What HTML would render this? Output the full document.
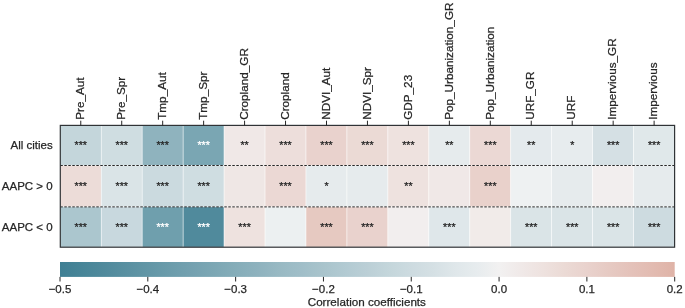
<!DOCTYPE html><html><head><meta charset="utf-8"><title>Correlation heatmap</title>
<style>html,body{margin:0;padding:0;background:#fff}svg{display:block;will-change:transform}text{font-family:"Liberation Sans",Arial,sans-serif;fill:#262626;stroke:#262626;stroke-width:0.25px}</style></head><body>
<svg width="685" height="308" viewBox="0 0 685 308">
<rect width="685" height="308" fill="#fff"/>
<rect x="60.30" y="125.40" width="40.95" height="40.10" fill="#c4d6db" stroke="#fff" stroke-width="0.6" stroke-opacity="0.75"/>
<rect x="101.25" y="125.40" width="40.95" height="40.10" fill="#cfdde1" stroke="#fff" stroke-width="0.6" stroke-opacity="0.75"/>
<rect x="142.21" y="125.40" width="40.95" height="40.10" fill="#8fb3be" stroke="#fff" stroke-width="0.6" stroke-opacity="0.75"/>
<rect x="183.16" y="125.40" width="40.95" height="40.10" fill="#7aa6b3" stroke="#fff" stroke-width="0.6" stroke-opacity="0.75"/>
<rect x="224.11" y="125.40" width="40.95" height="40.10" fill="#f0e8e7" stroke="#fff" stroke-width="0.6" stroke-opacity="0.75"/>
<rect x="265.07" y="125.40" width="40.95" height="40.10" fill="#eddedb" stroke="#fff" stroke-width="0.6" stroke-opacity="0.75"/>
<rect x="306.02" y="125.40" width="40.95" height="40.10" fill="#e9d2cd" stroke="#fff" stroke-width="0.6" stroke-opacity="0.75"/>
<rect x="346.97" y="125.40" width="40.95" height="40.10" fill="#ebdad5" stroke="#fff" stroke-width="0.6" stroke-opacity="0.75"/>
<rect x="387.93" y="125.40" width="40.95" height="40.10" fill="#eee2df" stroke="#fff" stroke-width="0.6" stroke-opacity="0.75"/>
<rect x="428.88" y="125.40" width="40.95" height="40.10" fill="#e6ebed" stroke="#fff" stroke-width="0.6" stroke-opacity="0.75"/>
<rect x="469.83" y="125.40" width="40.95" height="40.10" fill="#ebd8d4" stroke="#fff" stroke-width="0.6" stroke-opacity="0.75"/>
<rect x="510.79" y="125.40" width="40.95" height="40.10" fill="#e4eaed" stroke="#fff" stroke-width="0.6" stroke-opacity="0.75"/>
<rect x="551.74" y="125.40" width="40.95" height="40.10" fill="#e7ecee" stroke="#fff" stroke-width="0.6" stroke-opacity="0.75"/>
<rect x="592.69" y="125.40" width="40.95" height="40.10" fill="#d5e0e4" stroke="#fff" stroke-width="0.6" stroke-opacity="0.75"/>
<rect x="633.65" y="125.40" width="40.95" height="40.10" fill="#e0e8ea" stroke="#fff" stroke-width="0.6" stroke-opacity="0.75"/>
<rect x="60.30" y="165.50" width="40.95" height="41.40" fill="#ecdcd8" stroke="#fff" stroke-width="0.6" stroke-opacity="0.75"/>
<rect x="101.25" y="165.50" width="40.95" height="41.40" fill="#dae4e7" stroke="#fff" stroke-width="0.6" stroke-opacity="0.75"/>
<rect x="142.21" y="165.50" width="40.95" height="41.40" fill="#cbdadf" stroke="#fff" stroke-width="0.6" stroke-opacity="0.75"/>
<rect x="183.16" y="165.50" width="40.95" height="41.40" fill="#cfdde1" stroke="#fff" stroke-width="0.6" stroke-opacity="0.75"/>
<rect x="224.11" y="165.50" width="40.95" height="41.40" fill="#efe7e5" stroke="#fff" stroke-width="0.6" stroke-opacity="0.75"/>
<rect x="265.07" y="165.50" width="40.95" height="41.40" fill="#ebd8d4" stroke="#fff" stroke-width="0.6" stroke-opacity="0.75"/>
<rect x="306.02" y="165.50" width="40.95" height="41.40" fill="#e6ebed" stroke="#fff" stroke-width="0.6" stroke-opacity="0.75"/>
<rect x="346.97" y="165.50" width="40.95" height="41.40" fill="#e6ebed" stroke="#fff" stroke-width="0.6" stroke-opacity="0.75"/>
<rect x="387.93" y="165.50" width="40.95" height="41.40" fill="#eee2df" stroke="#fff" stroke-width="0.6" stroke-opacity="0.75"/>
<rect x="428.88" y="165.50" width="40.95" height="41.40" fill="#f0e8e7" stroke="#fff" stroke-width="0.6" stroke-opacity="0.75"/>
<rect x="469.83" y="165.50" width="40.95" height="41.40" fill="#e9d1cb" stroke="#fff" stroke-width="0.6" stroke-opacity="0.75"/>
<rect x="510.79" y="165.50" width="40.95" height="41.40" fill="#eef1f2" stroke="#fff" stroke-width="0.6" stroke-opacity="0.75"/>
<rect x="551.74" y="165.50" width="40.95" height="41.40" fill="#e6ebed" stroke="#fff" stroke-width="0.6" stroke-opacity="0.75"/>
<rect x="592.69" y="165.50" width="40.95" height="41.40" fill="#f2eeee" stroke="#fff" stroke-width="0.6" stroke-opacity="0.75"/>
<rect x="633.65" y="165.50" width="40.95" height="41.40" fill="#e6ebed" stroke="#fff" stroke-width="0.6" stroke-opacity="0.75"/>
<rect x="60.30" y="206.90" width="40.95" height="40.30" fill="#abc6ce" stroke="#fff" stroke-width="0.6" stroke-opacity="0.75"/>
<rect x="101.25" y="206.90" width="40.95" height="40.30" fill="#c8d8de" stroke="#fff" stroke-width="0.6" stroke-opacity="0.75"/>
<rect x="142.21" y="206.90" width="40.95" height="40.30" fill="#6f9fad" stroke="#fff" stroke-width="0.6" stroke-opacity="0.75"/>
<rect x="183.16" y="206.90" width="40.95" height="40.30" fill="#508a9c" stroke="#fff" stroke-width="0.6" stroke-opacity="0.75"/>
<rect x="224.11" y="206.90" width="40.95" height="40.30" fill="#eee2df" stroke="#fff" stroke-width="0.6" stroke-opacity="0.75"/>
<rect x="265.07" y="206.90" width="40.95" height="40.30" fill="#ecf0f1" stroke="#fff" stroke-width="0.6" stroke-opacity="0.75"/>
<rect x="306.02" y="206.90" width="40.95" height="40.30" fill="#e6c9c1" stroke="#fff" stroke-width="0.6" stroke-opacity="0.75"/>
<rect x="346.97" y="206.90" width="40.95" height="40.30" fill="#e9d2cd" stroke="#fff" stroke-width="0.6" stroke-opacity="0.75"/>
<rect x="387.93" y="206.90" width="40.95" height="40.30" fill="#f2eeee" stroke="#fff" stroke-width="0.6" stroke-opacity="0.75"/>
<rect x="428.88" y="206.90" width="40.95" height="40.30" fill="#dfe7ea" stroke="#fff" stroke-width="0.6" stroke-opacity="0.75"/>
<rect x="469.83" y="206.90" width="40.95" height="40.30" fill="#f1ebe9" stroke="#fff" stroke-width="0.6" stroke-opacity="0.75"/>
<rect x="510.79" y="206.90" width="40.95" height="40.30" fill="#dae4e7" stroke="#fff" stroke-width="0.6" stroke-opacity="0.75"/>
<rect x="551.74" y="206.90" width="40.95" height="40.30" fill="#dae4e7" stroke="#fff" stroke-width="0.6" stroke-opacity="0.75"/>
<rect x="592.69" y="206.90" width="40.95" height="40.30" fill="#dae4e7" stroke="#fff" stroke-width="0.6" stroke-opacity="0.75"/>
<rect x="633.65" y="206.90" width="40.95" height="40.30" fill="#cddbe0" stroke="#fff" stroke-width="0.6" stroke-opacity="0.75"/>
<text x="80.78" y="149.03" font-size="10.7" text-anchor="middle" style="fill:#262626;stroke:#262626">***</text>
<text x="121.73" y="149.03" font-size="10.7" text-anchor="middle" style="fill:#262626;stroke:#262626">***</text>
<text x="162.68" y="149.03" font-size="10.7" text-anchor="middle" style="fill:#262626;stroke:#262626">***</text>
<text x="203.64" y="149.03" font-size="10.7" text-anchor="middle" style="fill:#fff;stroke:#fff">***</text>
<text x="244.59" y="149.03" font-size="10.7" text-anchor="middle" style="fill:#262626;stroke:#262626">**</text>
<text x="285.54" y="149.03" font-size="10.7" text-anchor="middle" style="fill:#262626;stroke:#262626">***</text>
<text x="326.50" y="149.03" font-size="10.7" text-anchor="middle" style="fill:#262626;stroke:#262626">***</text>
<text x="367.45" y="149.03" font-size="10.7" text-anchor="middle" style="fill:#262626;stroke:#262626">***</text>
<text x="408.40" y="149.03" font-size="10.7" text-anchor="middle" style="fill:#262626;stroke:#262626">***</text>
<text x="449.36" y="149.03" font-size="10.7" text-anchor="middle" style="fill:#262626;stroke:#262626">**</text>
<text x="490.31" y="149.03" font-size="10.7" text-anchor="middle" style="fill:#262626;stroke:#262626">***</text>
<text x="531.26" y="149.03" font-size="10.7" text-anchor="middle" style="fill:#262626;stroke:#262626">**</text>
<text x="572.22" y="149.03" font-size="10.7" text-anchor="middle" style="fill:#262626;stroke:#262626">*</text>
<text x="613.17" y="149.03" font-size="10.7" text-anchor="middle" style="fill:#262626;stroke:#262626">***</text>
<text x="654.12" y="149.03" font-size="10.7" text-anchor="middle" style="fill:#262626;stroke:#262626">***</text>
<text x="80.78" y="189.88" font-size="10.7" text-anchor="middle" style="fill:#262626;stroke:#262626">***</text>
<text x="121.73" y="189.88" font-size="10.7" text-anchor="middle" style="fill:#262626;stroke:#262626">***</text>
<text x="162.68" y="189.88" font-size="10.7" text-anchor="middle" style="fill:#262626;stroke:#262626">***</text>
<text x="203.64" y="189.88" font-size="10.7" text-anchor="middle" style="fill:#262626;stroke:#262626">***</text>
<text x="285.54" y="189.88" font-size="10.7" text-anchor="middle" style="fill:#262626;stroke:#262626">***</text>
<text x="326.50" y="189.88" font-size="10.7" text-anchor="middle" style="fill:#262626;stroke:#262626">*</text>
<text x="408.40" y="189.88" font-size="10.7" text-anchor="middle" style="fill:#262626;stroke:#262626">**</text>
<text x="490.31" y="189.88" font-size="10.7" text-anchor="middle" style="fill:#262626;stroke:#262626">***</text>
<text x="80.78" y="230.88" font-size="10.7" text-anchor="middle" style="fill:#262626;stroke:#262626">***</text>
<text x="121.73" y="230.88" font-size="10.7" text-anchor="middle" style="fill:#262626;stroke:#262626">***</text>
<text x="162.68" y="230.88" font-size="10.7" text-anchor="middle" style="fill:#fff;stroke:#fff">***</text>
<text x="203.64" y="230.88" font-size="10.7" text-anchor="middle" style="fill:#fff;stroke:#fff">***</text>
<text x="244.59" y="230.88" font-size="10.7" text-anchor="middle" style="fill:#262626;stroke:#262626">***</text>
<text x="326.50" y="230.88" font-size="10.7" text-anchor="middle" style="fill:#262626;stroke:#262626">***</text>
<text x="367.45" y="230.88" font-size="10.7" text-anchor="middle" style="fill:#262626;stroke:#262626">***</text>
<text x="449.36" y="230.88" font-size="10.7" text-anchor="middle" style="fill:#262626;stroke:#262626">***</text>
<text x="531.26" y="230.88" font-size="10.7" text-anchor="middle" style="fill:#262626;stroke:#262626">***</text>
<text x="572.22" y="230.88" font-size="10.7" text-anchor="middle" style="fill:#262626;stroke:#262626">***</text>
<text x="613.17" y="230.88" font-size="10.7" text-anchor="middle" style="fill:#262626;stroke:#262626">***</text>
<text x="654.12" y="230.88" font-size="10.7" text-anchor="middle" style="fill:#262626;stroke:#262626">***</text>
<line x1="60.30" y1="165.50" x2="674.60" y2="165.50" stroke="#262626" stroke-width="1" stroke-dasharray="2.5 1.5"/>
<line x1="60.30" y1="206.90" x2="674.60" y2="206.90" stroke="#262626" stroke-width="1" stroke-dasharray="2.5 1.5"/>
<rect x="60.30" y="125.40" width="614.30" height="121.80" fill="none" stroke="#303336" stroke-width="1.2"/>
<line x1="80.78" y1="120.70" x2="80.78" y2="125.40" stroke="#262626" stroke-width="1"/>
<text transform="translate(83.98,119.80) rotate(-90)" font-size="11.72">Pre_Aut</text>
<line x1="121.73" y1="120.70" x2="121.73" y2="125.40" stroke="#262626" stroke-width="1"/>
<text transform="translate(124.93,119.80) rotate(-90)" font-size="11.72">Pre_Spr</text>
<line x1="162.68" y1="120.70" x2="162.68" y2="125.40" stroke="#262626" stroke-width="1"/>
<text transform="translate(165.88,119.80) rotate(-90)" font-size="11.72">Tmp_Aut</text>
<line x1="203.64" y1="120.70" x2="203.64" y2="125.40" stroke="#262626" stroke-width="1"/>
<text transform="translate(206.84,119.80) rotate(-90)" font-size="11.72">Tmp_Spr</text>
<line x1="244.59" y1="120.70" x2="244.59" y2="125.40" stroke="#262626" stroke-width="1"/>
<text transform="translate(247.79,119.80) rotate(-90)" font-size="11.72">Cropland_GR</text>
<line x1="285.54" y1="120.70" x2="285.54" y2="125.40" stroke="#262626" stroke-width="1"/>
<text transform="translate(288.74,119.80) rotate(-90)" font-size="11.72">Cropland</text>
<line x1="326.50" y1="120.70" x2="326.50" y2="125.40" stroke="#262626" stroke-width="1"/>
<text transform="translate(329.70,119.80) rotate(-90)" font-size="11.72">NDVI_Aut</text>
<line x1="367.45" y1="120.70" x2="367.45" y2="125.40" stroke="#262626" stroke-width="1"/>
<text transform="translate(370.65,119.80) rotate(-90)" font-size="11.72">NDVI_Spr</text>
<line x1="408.40" y1="120.70" x2="408.40" y2="125.40" stroke="#262626" stroke-width="1"/>
<text transform="translate(411.60,119.80) rotate(-90)" font-size="11.72">GDP_23</text>
<line x1="449.36" y1="120.70" x2="449.36" y2="125.40" stroke="#262626" stroke-width="1"/>
<text transform="translate(452.56,119.80) rotate(-90)" font-size="11.72">Pop_Urbanization_GR</text>
<line x1="490.31" y1="120.70" x2="490.31" y2="125.40" stroke="#262626" stroke-width="1"/>
<text transform="translate(493.51,119.80) rotate(-90)" font-size="11.72">Pop_Urbanization</text>
<line x1="531.26" y1="120.70" x2="531.26" y2="125.40" stroke="#262626" stroke-width="1"/>
<text transform="translate(534.46,119.80) rotate(-90)" font-size="11.72">URF_GR</text>
<line x1="572.22" y1="120.70" x2="572.22" y2="125.40" stroke="#262626" stroke-width="1"/>
<text transform="translate(575.42,119.80) rotate(-90)" font-size="11.72">URF</text>
<line x1="613.17" y1="120.70" x2="613.17" y2="125.40" stroke="#262626" stroke-width="1"/>
<text transform="translate(616.37,119.80) rotate(-90)" font-size="11.72">Impervious_GR</text>
<line x1="654.12" y1="120.70" x2="654.12" y2="125.40" stroke="#262626" stroke-width="1"/>
<text transform="translate(657.32,119.80) rotate(-90)" font-size="11.72">Impervious</text>
<text x="52.7" y="149.05" font-size="11.50" text-anchor="end">All cities</text>
<text x="52.7" y="189.80" font-size="11.50" text-anchor="end">AAPC > 0</text>
<text x="52.7" y="230.65" font-size="11.50" text-anchor="end">AAPC < 0</text>
<defs><linearGradient id="cb" x1="0" y1="0" x2="1" y2="0">
<stop offset="0.0000" stop-color="#3f7f93"/>
<stop offset="0.0357" stop-color="#478598"/>
<stop offset="0.0714" stop-color="#508a9c"/>
<stop offset="0.1071" stop-color="#5990a1"/>
<stop offset="0.1429" stop-color="#6296a6"/>
<stop offset="0.1786" stop-color="#6b9cab"/>
<stop offset="0.2143" stop-color="#74a1b0"/>
<stop offset="0.2500" stop-color="#7ca7b4"/>
<stop offset="0.2857" stop-color="#85adb9"/>
<stop offset="0.3214" stop-color="#8eb2be"/>
<stop offset="0.3571" stop-color="#98b9c3"/>
<stop offset="0.3929" stop-color="#a0bec8"/>
<stop offset="0.4286" stop-color="#a9c4cc"/>
<stop offset="0.4643" stop-color="#b2cad2"/>
<stop offset="0.5000" stop-color="#bbcfd6"/>
<stop offset="0.5357" stop-color="#c4d6db"/>
<stop offset="0.5714" stop-color="#cddbe0"/>
<stop offset="0.6071" stop-color="#d5e0e4"/>
<stop offset="0.6429" stop-color="#dfe7ea"/>
<stop offset="0.6786" stop-color="#e7ecee"/>
<stop offset="0.7143" stop-color="#f2f1f1"/>
<stop offset="0.7500" stop-color="#f0e9e8"/>
<stop offset="0.7857" stop-color="#eee2df"/>
<stop offset="0.8214" stop-color="#ebdad5"/>
<stop offset="0.8571" stop-color="#e9d2cd"/>
<stop offset="0.8929" stop-color="#e6cac3"/>
<stop offset="0.9286" stop-color="#e4c2ba"/>
<stop offset="0.9643" stop-color="#e2bbb1"/>
<stop offset="1.0000" stop-color="#dfb3a7"/>
</linearGradient></defs>
<rect x="60.00" y="262.00" width="614.70" height="14.90" fill="url(#cb)"/>
<line x1="60.00" y1="276.90" x2="60.00" y2="281.50" stroke="#262626" stroke-width="1"/>
<text x="60.00" y="292.90" font-size="11.50" text-anchor="middle">−0.5</text>
<line x1="147.81" y1="276.90" x2="147.81" y2="281.50" stroke="#262626" stroke-width="1"/>
<text x="147.81" y="292.90" font-size="11.50" text-anchor="middle">−0.4</text>
<line x1="235.63" y1="276.90" x2="235.63" y2="281.50" stroke="#262626" stroke-width="1"/>
<text x="235.63" y="292.90" font-size="11.50" text-anchor="middle">−0.3</text>
<line x1="323.44" y1="276.90" x2="323.44" y2="281.50" stroke="#262626" stroke-width="1"/>
<text x="323.44" y="292.90" font-size="11.50" text-anchor="middle">−0.2</text>
<line x1="411.26" y1="276.90" x2="411.26" y2="281.50" stroke="#262626" stroke-width="1"/>
<text x="411.26" y="292.90" font-size="11.50" text-anchor="middle">−0.1</text>
<line x1="499.07" y1="276.90" x2="499.07" y2="281.50" stroke="#262626" stroke-width="1"/>
<text x="499.07" y="292.90" font-size="11.50" text-anchor="middle">0.0</text>
<line x1="586.89" y1="276.90" x2="586.89" y2="281.50" stroke="#262626" stroke-width="1"/>
<text x="586.89" y="292.90" font-size="11.50" text-anchor="middle">0.1</text>
<line x1="674.70" y1="276.90" x2="674.70" y2="281.50" stroke="#262626" stroke-width="1"/>
<text x="674.70" y="292.90" font-size="11.50" text-anchor="middle">0.2</text>
<text x="366.85" y="306.4" font-size="11.65" text-anchor="middle">Correlation coefficients</text>
</svg></body></html>
